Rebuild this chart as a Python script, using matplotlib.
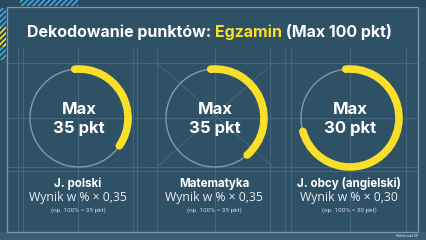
import matplotlib
matplotlib.use("Agg")
import matplotlib.pyplot as plt
from matplotlib.patches import Arc, Circle, Rectangle

# data
subjects = ["J. polski", "Matematyka", "J. obcy (angielski)"]
max_points = [35, 35, 30]
weights = ["0,35", "0,35", "0,30"]
arc_fraction = [0.36, 0.40, 0.72]   # share of circle covered by the yellow arc (as drawn)

BG = "#2f5166"
YELLOW = "#f9df2a"
GRID = "#4a697d"
W, H = 426, 240

fig = plt.figure(figsize=(W / 100, H / 100), dpi=100)
fig.patch.set_facecolor(BG)
ax = fig.add_axes([0, 0, 1, 1])
ax.set_xlim(0, W)
ax.set_ylim(0, H)
ax.set_aspect("equal")
ax.axis("off")
ax.set_facecolor(BG)

def Y(y):
    return H - y

# top strip and bottom strip
ax.add_patch(Rectangle((0, Y(7)), W, 7, color="#2a495c", zorder=0))
ax.add_patch(Rectangle((0, 0), W, 8, color="#3a5d72", zorder=0))

# hatched decorations
plt.rcParams["hatch.linewidth"] = 1.2
ax.add_patch(Rectangle((20, Y(6)), 58, 6, facecolor="#2a495c", edgecolor="#3fa8e0",
                       hatch="//////", lw=0, zorder=1))
ax.add_patch(Rectangle((0, Y(60)), 6, 52, facecolor="#2a495c", edgecolor="#3fa8e0",
                       hatch="//////", lw=0, zorder=1))
ax.add_patch(Rectangle((0, Y(47)), 6, 20, facecolor="#2a495c", edgecolor=YELLOW,
                       hatch="//////", lw=0, zorder=1))

# faint blueprint grid
for x in [18, 23, 78, 133, 137, 157, 215, 270, 285, 291, 350, 406]:
    ax.plot([x, x], [Y(48), Y(232)], color=GRID, lw=0.6, zorder=1)
for y in [63, 118, 167, 171]:
    ax.plot([7, 418], [Y(y), Y(y)], color=GRID, lw=0.6, zorder=1)
ax.plot([157, 273], [Y(63), Y(167)], color=GRID, lw=0.6, zorder=1)
ax.plot([273, 157], [Y(63), Y(167)], color=GRID, lw=0.6, zorder=1)

# frame
ax.add_patch(Rectangle((7, Y(232)), 411, 225, fill=False, edgecolor="#7f98a8",
                       lw=0.9, zorder=2))

# title
fam = "Inter"
ts = 11.5
t1 = ax.text(27, Y(32), "Dekodowanie punktów: ", color="white", fontsize=ts,
             fontweight="bold", family=fam, va="center", ha="left", zorder=5)
fig.canvas.draw()
x2 = ax.transData.inverted().transform((t1.get_window_extent().x1, 0))[0]
t2 = ax.text(x2, Y(32), "Egzamin", color=YELLOW, fontsize=ts, fontweight="bold",
             family=fam, va="center", ha="left", zorder=5)
fig.canvas.draw()
x3 = ax.transData.inverted().transform((t2.get_window_extent().x1, 0))[0]
ax.text(x3, Y(32), " (Max 100 pkt)", color="white", fontsize=ts, fontweight="bold",
        family=fam, va="center", ha="left", zorder=5)

centers = [79, 215, 350]
cy = 118
r = 49
start = 95

for cx, subj, pts, wgt, frac in zip(centers, subjects, max_points, weights, arc_fraction):
    ax.add_patch(Circle((cx, Y(cy)), r, fill=False, edgecolor="#8497a6", lw=1.0, zorder=3))
    span = frac * 360
    ax.add_patch(Arc((cx, Y(cy)), 2 * r, 2 * r, theta1=start - span, theta2=start,
                     color=YELLOW, lw=5.5, capstyle="round", zorder=4))
    ax.text(cx, Y(110), "Max", color="white", fontsize=12, fontweight="bold",
            family=fam, ha="center", va="center", zorder=5)
    ax.text(cx, Y(128), f"{pts} pkt", color="white", fontsize=12, fontweight="bold",
            family=fam, ha="center", va="center", zorder=5)
    ax.text(cx - 1, Y(184), subj, color="white", fontsize=8.3, fontweight="bold",
            family=fam, ha="center", va="center", zorder=5)
    ax.text(cx - 1, Y(197), f"Wynik w % × {wgt}", color="#e8eef2", fontsize=8.8,
            family="Open Sans", ha="center", va="center", zorder=5)
    ax.text(cx - 1, Y(210), f"(np. 100% = {pts} pkt)", color="#c9d4dc", fontsize=4.6,
            family="Roboto", ha="center", va="center", zorder=5)

ax.text(418, Y(236), "NotebookLM", color="#dfe6eb", fontsize=2.8, family="Roboto",
        ha="right", va="center", zorder=5)

fig.savefig("out.png", dpi=100, facecolor=BG)
